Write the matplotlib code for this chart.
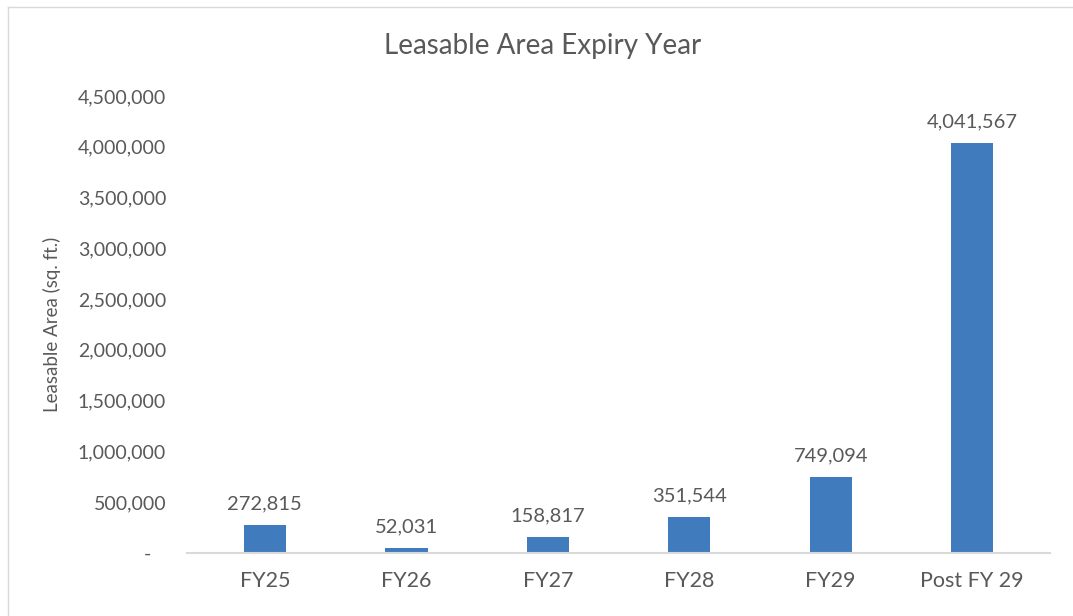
import matplotlib.pyplot as plt
from matplotlib.lines import Line2D
from matplotlib.ticker import FuncFormatter

years = ["FY25", "FY26", "FY27", "FY28", "FY29", "Post FY 29"]
area = [272815, 52031, 158817, 351544, 749094, 4041567]
yticks = [0, 500000, 1000000, 1500000, 2000000, 2500000, 3000000, 3500000, 4000000, 4500000]

plt.rcParams['font.family'] = ['Lato', 'DejaVu Sans']
grey = '#595959'
blue = '#407CBD'

fig = plt.figure(figsize=(10.73, 6.16), dpi=100)
ax = fig.add_axes([0.1743, 0.1023, 0.8043, 0.7419])

x = range(len(years))
bars = ax.bar(x, area, width=0.3, color=blue, zorder=2)
for b, v in zip(bars, area):
    ax.annotate(f"{v:,}", (b.get_x() + b.get_width() / 2, v), xytext=(0, 9),
                textcoords='offset points', ha='center', va='bottom',
                fontsize=14.5, color=grey)

ax.set_xlim(-0.55, len(years) - 0.45)
ax.set_ylim(0, 4500000)
ax.set_yticks(yticks)
ax.yaxis.set_major_formatter(FuncFormatter(lambda v, p: f"{v:,.0f}" if v else "-   "))
ax.set_xticks(list(x))
ax.set_xticklabels(years)
ax.tick_params(axis='both', length=0, colors=grey, labelsize=14)
ax.tick_params(axis='x', pad=13, labelsize=15.5)
ax.tick_params(axis='y', pad=15)

for s in ['top', 'right', 'left']:
    ax.spines[s].set_visible(False)
ax.spines['bottom'].set_color('#D9D9D9')
ax.spines['bottom'].set_linewidth(1.5)

ax.set_ylabel("Leasable Area (sq. ft.)", fontsize=13.5, color=grey, labelpad=12)
fig.text(0.506, 0.925, "Leasable Area Expiry Year", ha='center', va='center',
         fontsize=20, color=grey)

# chart border
fig.add_artist(Line2D([8 / 1073, 8 / 1073], [0, 1 - 7 / 616], color='#D9D9D9', lw=1))
fig.add_artist(Line2D([8 / 1073, 1], [1 - 7 / 616, 1 - 7 / 616], color='#D9D9D9', lw=1))

fig.savefig("out.png", dpi=100)
